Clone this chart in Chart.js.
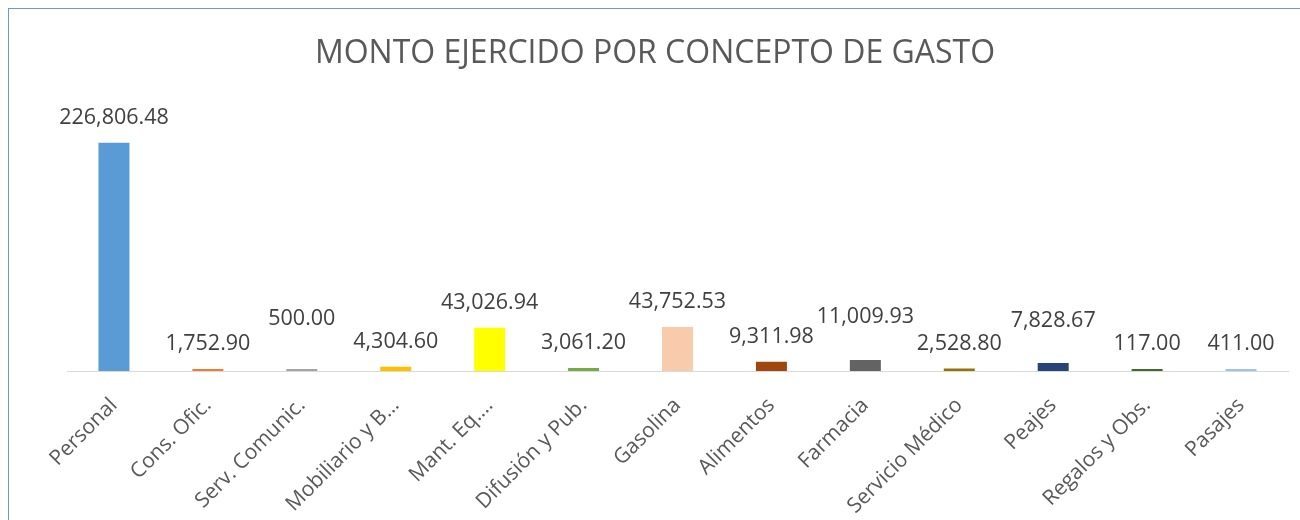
<!DOCTYPE html>
<html>
<head>
<meta charset="utf-8">
<script src="https://cdn.jsdelivr.net/npm/chart.js@4.4.1/dist/chart.umd.min.js"></script>
<style>
  html, body { margin: 0; padding: 0; background: #ffffff; }
  #wrap { position: relative; width: 1300px; height: 520px; overflow: hidden; }
  #frame { position: absolute; left: 8px; top: 8px; width: 1400px; height: 600px;
           border-top: 1px solid #6f95dc; border-left: 1px solid #6f95dc; pointer-events: none; }
  canvas { position: absolute; left: 0; top: 0; }
</style>
</head>
<body>
<div id="wrap">
  <canvas id="c" width="1300" height="520"></canvas>
  <div id="frame"></div>
</div>
<script>
const titleText = "MONTO EJERCIDO POR CONCEPTO DE GASTO";
const categories = ["Personal", "Cons. Ofic.", "Serv. Comunic.", "Mobiliario y B\u2026", "Mant. Eq.\u2026",
  "Difusión y Pub.", "Gasolina", "Alimentos", "Farmacia", "Servicio Médico", "Peajes", "Regalos y Obs.", "Pasajes"];
const amounts = [226806.48, 1752.90, 500.00, 4304.60, 43026.94, 3061.20, 43752.53, 9311.98, 11009.93, 2528.80, 7828.67, 117.00, 411.00];
const barColors = ["#5B9BD5", "#ED7D31", "#A5A5A5", "#FFC000", "#FFFF00", "#70AD47", "#F8CBAD",
  "#9E480E", "#636363", "#997300", "#264478", "#43682B", "#9DC3E6"];
const yMin = 0, yMax = 250000;

// extra upward shift of some data labels (as placed in the original)
const labelLift = [0, 0, 25, 0, 0, 0, 0, 0, 18, 0, 17, 0, 0];

const fmt = v => v.toLocaleString('en-US', { minimumFractionDigits: 2, maximumFractionDigits: 2 });

const dataLabels = {
  id: 'dataLabels',
  afterDatasetsDraw(chart) {
    const ctx = chart.ctx;
    const meta = chart.getDatasetMeta(0);
    ctx.save();
    ctx.font = '21.5px "Open Sans"';
    ctx.fillStyle = '#404040';
    ctx.textAlign = 'center';
    ctx.textBaseline = 'middle';
    meta.data.forEach((bar, i) => {
      const top = Math.min(bar.y, bar.base);
      ctx.fillText(fmt(amounts[i]), bar.x, top - 25 - labelLift[i]);
    });
    ctx.restore();
  }
};

new Chart(document.getElementById('c'), {
  type: 'bar',
  data: {
    labels: categories,
    datasets: [{
      data: amounts,
      backgroundColor: barColors,
      borderWidth: 0,
      minBarLength: 2,
      barPercentage: 0.66,
      categoryPercentage: 0.5
    }]
  },
  options: {
    responsive: false,
    animation: false,
    devicePixelRatio: 1,
    layout: { padding: { left: 22, right: 12, top: 0, bottom: 0 } },
    plugins: {
      legend: { display: false },
      tooltip: { enabled: false },
      title: {
        display: true,
        text: titleText,
        color: '#595959',
        font: { family: '"Open Sans"', size: 32, weight: 'normal' },
        padding: { top: 35, bottom: 46 }
      }
    },
    scales: {
      x: {
        grid: { display: false },
        border: { display: true, color: '#d9d9d9', width: 1 },
        ticks: {
          color: '#595959',
          font: { family: '"Open Sans"', size: 21 },
          minRotation: 45,
          maxRotation: 45,
          padding: 14,
          autoSkip: false
        },
        afterFit(scale) { scale.height = 149; }
      },
      y: {
        display: true,
        min: yMin,
        max: yMax,
        grid: { display: false },
        border: { display: false },
        ticks: { display: false },
        afterFit(scale) { scale.width = 45; }
      }
    }
  },
  plugins: [dataLabels]
});
</script>
</body>
</html>
